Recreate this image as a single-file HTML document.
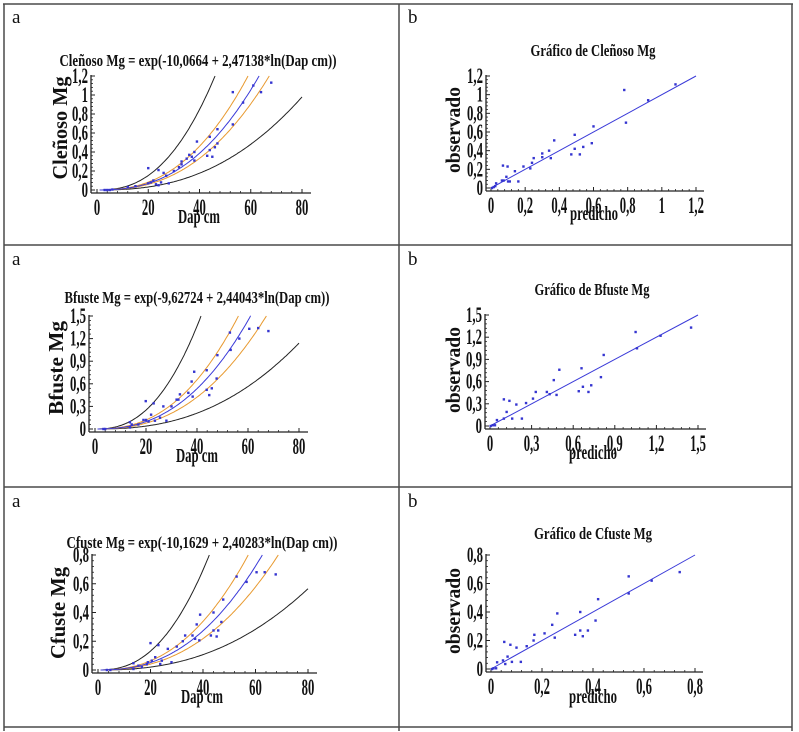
<!DOCTYPE html>
<html><head><meta charset="utf-8">
<style>
html,body{margin:0;padding:0;background:#fff;}
svg{display:block;}
</style></head>
<body>
<svg id="fig" xmlns="http://www.w3.org/2000/svg" width="799" height="732" viewBox="0 0 799 732">
  <g stroke="#4a4a4a" stroke-width="1.5" fill="none">
    <line x1="3" y1="4" x2="793" y2="4"/>
    <line x1="4" y1="4" x2="4" y2="731"/>
    <line x1="792" y1="4" x2="792" y2="731"/>
    <line x1="399" y1="4" x2="399" y2="731"/>
    <line x1="4" y1="245" x2="792" y2="245"/>
    <line x1="4" y1="487" x2="792" y2="487"/>
    <line x1="4" y1="727" x2="792" y2="727"/>
  </g>
  <g font-family="Liberation Serif, serif" font-size="19" fill="#111">
    <text x="12" y="23">a</text>
    <text x="408" y="23">b</text>
    <text x="12" y="265">a</text>
    <text x="408" y="265">b</text>
    <text x="12" y="507">a</text>
    <text x="408" y="507">b</text>
  </g>
</svg>
<script>
// ---- data: Cleñoso ----
const dap1 = [3,4,5,6,12,15,20,20,21,22,23,24,24,25,26,27,28,30,32,33,33,35,36,37,38,38,39,43,44,44,45,46,47,47,53,53,57,61,64,68];
const mg1  = [0,0,0,0.005,0.03,0.04,0.23,0.07,0.08,0.1,0.06,0.05,0.21,0.08,0.18,0.15,0.07,0.2,0.24,0.3,0.27,0.33,0.37,0.35,0.31,0.4,0.51,0.36,0.56,0.42,0.35,0.45,0.49,0.64,1.03,0.69,0.92,1.1,1.03,1.13];
const pred1 = [0.006,0.016,0.025,0.03,0.064,0.074,0.07,0.09,0.097,0.1,0.11,0.14,0.16,0.19,0.23,0.24,0.25,0.3,0.3,0.34,0.35,0.37,0.47,0.49,0.49,0.52,0.54,0.59,0.6,0.78,0.79,0.92,1.08];
const obs1  = [0,0.01,0.02,0.05,0.08,0.08,0.24,0.12,0.23,0.07,0.07,0.18,0.07,0.23,0.21,0.27,0.32,0.37,0.33,0.4,0.32,0.51,0.36,0.42,0.57,0.36,0.44,0.48,0.66,1.05,0.7,0.94,1.11];
const coef1 = [-10.0664, 2.47138];
const band1 = [2.19, 1.19, 0.86];
const yTicks1 = [0,0.2,0.4,0.6,0.8,1,1.2];
const yLabels1 = ["0","0,2","0,4","0,6","0,8","1","1,2"];
// ---- data: Bfuste ----
const dap2 = [3.3,4,13.7,13.7,14.4,17,19,19.9,20,21,22,23,23.5,25.5,26.8,28,30,32,32.7,33.3,36.6,37.9,38.3,38.9,43.8,43.8,44.8,45.8,47.7,48,52.9,53.2,56.6,60.5,64,68];
const mg2  = [0,0,0.09,0.02,0.06,0.06,0.12,0.37,0.12,0.1,0.19,0.34,0.11,0.15,0.3,0.11,0.3,0.39,0.39,0.46,0.48,0.63,0.43,0.76,0.78,0.52,0.45,0.54,0.67,0.98,1.28,1.05,1.2,1.33,1.34,1.3];
const pred2 = [0.005,0.02,0.036,0.05,0.1,0.1,0.12,0.14,0.16,0.19,0.23,0.26,0.31,0.33,0.41,0.43,0.46,0.48,0.5,0.64,0.66,0.67,0.71,0.73,0.8,0.82,1.05,1.06,1.23,1.45];
const obs2  = [0,0.01,0.01,0.08,0.1,0.36,0.19,0.34,0.1,0.29,0.1,0.31,0.37,0.46,0.46,0.43,0.62,0.42,0.76,0.47,0.78,0.53,0.46,0.55,0.66,0.96,1.27,1.05,1.22,1.33];
const coef2 = [-9.62724, 2.44043];
const band2 = [2.55, 1.22, 0.79];
const yTicks2 = [0,0.3,0.6,0.9,1.2,1.5];
const yLabels2 = ["0","0,3","0,6","0,9","1,2","1,5"];
// ---- data: Cfuste ----
const dap3 = [3.4,4.7,13.5,13.5,15.4,16.7,18.6,19,20,20.5,21.8,23,23.7,24.3,26.6,28,30,32.3,33.2,36,37,37.6,38.6,38.9,43,44,44,45.2,45.8,47,47.7,52.8,56.6,60.4,63.5,67.7];
const mg3  = [0,0,0.047,0.007,0.03,0.02,0.04,0.054,0.187,0.065,0.089,0.173,0.042,0.065,0.147,0.054,0.163,0.2,0.24,0.24,0.217,0.317,0.206,0.385,0.24,0.4,0.275,0.233,0.275,0.334,0.49,0.65,0.613,0.68,0.68,0.665];
const pred3 = [0.004,0.01,0.02,0.024,0.047,0.052,0.056,0.065,0.076,0.082,0.1,0.117,0.14,0.167,0.17,0.21,0.24,0.25,0.26,0.33,0.35,0.35,0.36,0.38,0.41,0.42,0.54,0.54,0.63,0.74];
const obs3  = [0,0.005,0.005,0.047,0.06,0.19,0.035,0.087,0.17,0.05,0.15,0.05,0.16,0.2,0.24,0.25,0.31,0.22,0.39,0.24,0.4,0.27,0.23,0.27,0.34,0.49,0.65,0.53,0.62,0.68];
const coef3 = [-10.1629, 2.40283];
const band3 = [2.55, 1.24, 0.80];
const yTicks3 = [0,0.2,0.4,0.6,0.8];
const yLabels3 = ["0","0,2","0,4","0,6","0,8"];
const xTicksA = [0,20,40,60,80];
const xLabelsA = ["0","20","40","60","80"];

const NS = "http://www.w3.org/2000/svg";
const svg = document.getElementById('fig');
function mk(tag, attrs, parent){ const e=document.createElementNS(NS,tag); for(const k in attrs) e.setAttribute(k,attrs[k]); (parent||svg).appendChild(e); return e; }
function condText(parent, x, y, str, anchor, size, sx){
  const t = mk('text',{transform:`translate(${x},${y}) scale(${sx},1)`,'text-anchor':anchor,'font-family':'Liberation Serif, serif','font-weight':'bold','font-size':size,fill:'#111'},parent);
  t.textContent = str; return t;
}
function fitText(parent, x, y, str, size, len, rot){
  const t = mk('text',{x:x,y:y,'text-anchor':'middle','font-family':'Liberation Serif, serif','font-weight':'bold','font-size':size,fill:'#111',textLength:len,lengthAdjust:'spacingAndGlyphs'},parent);
  if(rot) t.setAttribute('transform',`rotate(-90 ${x} ${y})`);
  t.textContent = str; return t;
}
function model(c, d){ return Math.exp(c[0] + c[1]*Math.log(d)); }

function axes(g, sx, sy, xT, xL, yT, yL, xmaxPx, axisY, axisX){
  mk('line',{x1:axisX,y1:axisY,x2:xmaxPx,y2:axisY,stroke:'#222','stroke-width':1.3},g);
  mk('line',{x1:axisX,y1:sy(yT[yT.length-1])-1,x2:axisX,y2:axisY,stroke:'#222','stroke-width':1.3},g);
  const xs = xT[1]-xT[0], ys = yT[1]-yT[0];
  for(let i=0;i<xT.length;i++){
    mk('line',{x1:sx(xT[i]),y1:axisY,x2:sx(xT[i]),y2:axisY-4,stroke:'#222','stroke-width':1},g);
    if(i<xT.length-1) for(let k=1;k<5;k++){ const v=xT[i]+xs*k/5; mk('line',{x1:sx(v),y1:axisY,x2:sx(v),y2:axisY-2,stroke:'#222','stroke-width':0.8},g); }
    const t = condText(g, sx(xT[i]), axisY+22, xL[i], 'middle', 23, 0.55);
    
    
  }
  for(let i=0;i<yT.length;i++){
    mk('line',{x1:axisX,y1:sy(yT[i]),x2:axisX+4,y2:sy(yT[i]),stroke:'#222','stroke-width':1},g);
    if(i<yT.length-1) for(let k=1;k<5;k++){ const v=yT[i]+ys*k/5; mk('line',{x1:axisX,y1:sy(v),x2:axisX+2,y2:sy(v),stroke:'#222','stroke-width':0.8},g); }
    const t = condText(g, axisX-3, sy(yT[i])+7, yL[i], 'end', 22, 0.58);
    
    
  }
}
function dots(g, xs, ys, sx, sy){
  for(let i=0;i<xs.length;i++){
    const r = mk('rect',{x:sx(xs[i])-1.2,y:sy(ys[i])-1.2,width:2.4,height:2.4,fill:'#3535d0'},g);
    
    
  }
}
function curve(g, c, factor, sx, sy, ymax, color, name){
  let d='';
  for(let x=1;x<=80;x+=0.5){
    let v = model(c,x)*factor;
    if(v>ymax){ const xe = Math.exp((Math.log(ymax/factor)-c[0])/c[1]); d+=`L${sx(xe).toFixed(1)},${sy(ymax).toFixed(1)}`; break; }
    d += (d?'L':'M')+sx(x).toFixed(1)+','+sy(v).toFixed(1);
  }
  const p = mk('path',{d:d,fill:'none',stroke:color,'stroke-width':1},g);
  
  
}

function panelA(cfg){
  const g = mk('g',{});
  
  
  const sx = d => cfg.x0 + d/80*(cfg.x1-cfg.x0);
  const sy = v => cfg.y0 - v/cfg.ymax*(cfg.y0-cfg.y1);
  const tt = fitText(g, cfg.tx, cfg.ty, cfg.title, 17, cfg.tlen, false);
   
  axes(g, sx, sy, xTicksA, xLabelsA, cfg.yT, cfg.yL, cfg.x1+9, cfg.y0+3, cfg.x0-6);
  curve(g, cfg.coef, cfg.band[0], sx, sy, cfg.ymax, '#222', 'prediction-upper');
  curve(g, cfg.coef, 1/cfg.band[0], sx, sy, cfg.ymax, '#222', 'prediction-lower');
  curve(g, cfg.coef, cfg.band[1], sx, sy, cfg.ymax, '#e89a30', 'confidence-upper');
  curve(g, cfg.coef, cfg.band[2], sx, sy, cfg.ymax, '#e89a30', 'confidence-lower');
  curve(g, cfg.coef, 1, sx, sy, cfg.ymax, '#3a3ad8', 'fitted-line');
  dots(g, cfg.dap, cfg.mg, sx, sy);
  const yl = fitText(g, cfg.ylx, cfg.yly, cfg.ylabel, 21, cfg.yllen, true);
   
  const xl = fitText(g, cfg.xlx, cfg.xly, 'Dap cm', 20, 42, false);
   
}
function panelB(cfg){
  const g = mk('g',{});
  
  
  const m = cfg.yT[cfg.yT.length-1];
  const sx = v => cfg.x0 + v/m*(cfg.x1-cfg.x0);
  const sy = v => cfg.y0 - v/m*(cfg.y0-cfg.y1);
  const tt = fitText(g, cfg.tx, cfg.ty, cfg.title, 17, cfg.tlen, false);
   
  axes(g, sx, sy, cfg.yT, cfg.yL, cfg.yT, cfg.yL, cfg.x1+8, cfg.y0+3, cfg.x0-5);
  const ln = mk('line',{x1:sx(0),y1:sy(0),x2:sx(m),y2:sy(m),stroke:'#3a3ad8','stroke-width':1},g);
   
  dots(g, cfg.pred, cfg.obs, sx, sy);
  const yl = fitText(g, cfg.ylx, cfg.yly, 'observado', 21, 86, true);
   
  const xl = fitText(g, cfg.xlx, cfg.xly, 'predicho', 20, 48, false);
   
}

panelA({name:'chart-a-cleñoso',x0:97,x1:302,y0:190,y1:76,ymax:1.2,yT:yTicks1,yL:yLabels1,dap:dap1,mg:mg1,coef:coef1,band:band1,
  title:'Cleñoso Mg = exp(-10,0664 + 2,47138*ln(Dap cm))',tx:198,ty:66,tlen:277,ylabel:'Cleñoso Mg',ylx:67,yly:128,yllen:103,xlx:199,xly:223});
panelB({name:'chart-b-cleñoso',x0:491,x1:696,y0:188,y1:76,yT:yTicks1,yL:yLabels1,pred:pred1,obs:obs1,
  title:'Gráfico de Cleñoso Mg',tx:593,ty:56,tlen:125,ylx:460,yly:130,xlx:594,xly:220});
panelA({name:'chart-a-bfuste',x0:95,x1:299,y0:429,y1:316,ymax:1.5,yT:yTicks2,yL:yLabels2,dap:dap2,mg:mg2,coef:coef2,band:band2,
  title:'Bfuste Mg = exp(-9,62724 + 2,44043*ln(Dap cm))',tx:197,ty:303,tlen:265,ylabel:'Bfuste Mg',ylx:63,yly:368,yllen:94,xlx:197,xly:462});
panelB({name:'chart-b-bfuste',x0:490,x1:698,y0:426,y1:315,yT:yTicks2,yL:yLabels2,pred:pred2,obs:obs2,
  title:'Gráfico de Bfuste Mg',tx:592,ty:295,tlen:115,ylx:460,yly:370,xlx:593,xly:459});
panelA({name:'chart-a-cfuste',x0:98,x1:308,y0:670,y1:555,ymax:0.8,yT:yTicks3,yL:yLabels3,dap:dap3,mg:mg3,coef:coef3,band:band3,
  title:'Cfuste Mg = exp(-10,1629 + 2,40283*ln(Dap cm))',tx:202,ty:548,tlen:271,ylabel:'Cfuste Mg',ylx:65,yly:613,yllen:92,xlx:202,xly:703});
panelB({name:'chart-b-cfuste',x0:491,x1:695,y0:669,y1:555,yT:yTicks3,yL:yLabels3,pred:pred3,obs:obs3,
  title:'Gráfico de Cfuste Mg',tx:593,ty:539,tlen:118,ylx:460,yly:611,xlx:593,xly:703});
</script>
</body></html>
